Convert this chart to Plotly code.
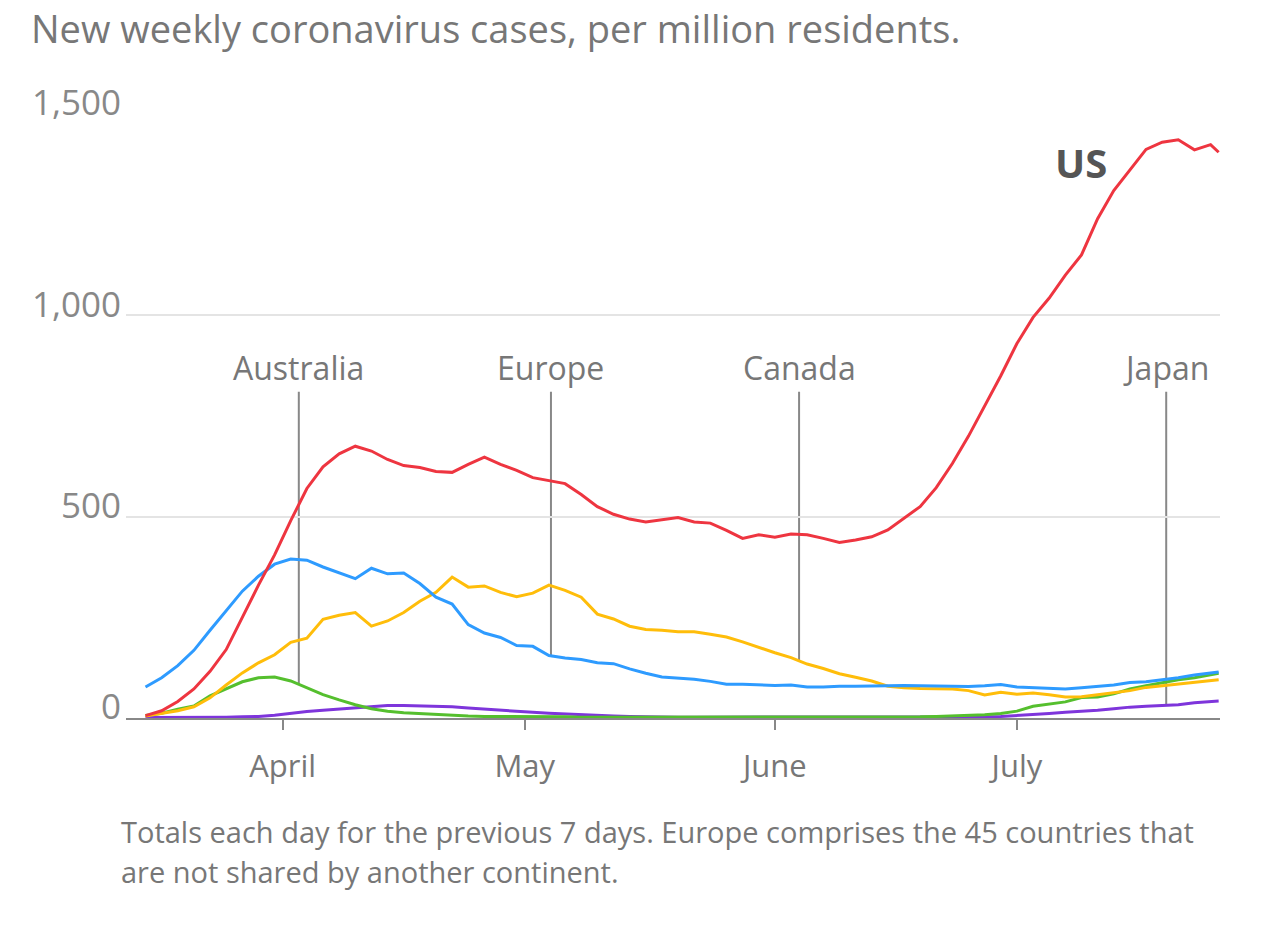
import plotly.graph_objects as go

# ---------------- data ----------------
dates = [
    "2020-03-15", "2020-03-17", "2020-03-19", "2020-03-21", "2020-03-23", "2020-03-25",
    "2020-03-27", "2020-03-29", "2020-03-31", "2020-04-02", "2020-04-04", "2020-04-06",
    "2020-04-08", "2020-04-10", "2020-04-12", "2020-04-14", "2020-04-16", "2020-04-18",
    "2020-04-20", "2020-04-22", "2020-04-24", "2020-04-26", "2020-04-28", "2020-04-30",
    "2020-05-02", "2020-05-04", "2020-05-06", "2020-05-08", "2020-05-10", "2020-05-12",
    "2020-05-14", "2020-05-16", "2020-05-18", "2020-05-20", "2020-05-22", "2020-05-24",
    "2020-05-26", "2020-05-28", "2020-05-30", "2020-06-01", "2020-06-03", "2020-06-05",
    "2020-06-07", "2020-06-09", "2020-06-11", "2020-06-13", "2020-06-15", "2020-06-17",
    "2020-06-19", "2020-06-21", "2020-06-23", "2020-06-25", "2020-06-27", "2020-06-29",
    "2020-07-01", "2020-07-03", "2020-07-05", "2020-07-07", "2020-07-09", "2020-07-11",
    "2020-07-13", "2020-07-15", "2020-07-17", "2020-07-19", "2020-07-21", "2020-07-23",
    "2020-07-25", "2020-07-26",
]

us = [6, 18, 41, 72, 116, 170, 250, 330, 405, 490, 570, 624,
      656, 675, 663, 642, 627, 622, 612, 610, 630, 648, 630, 615,
      597, 590, 582, 555, 525, 506, 494, 487, 493, 498, 487, 484,
      466, 446, 455, 449, 457, 455, 446, 436, 442, 450, 467, 496,
      525, 572, 632, 700, 776, 850, 930, 995, 1043, 1100, 1150, 1240,
      1310, 1360, 1412, 1430, 1436, 1411, 1424, 1405]

europe = [77, 100, 130, 168, 218, 266, 315, 352, 382, 395, 392, 375,
          360, 346, 372, 358, 360, 334, 300, 283, 232, 211, 200, 180,
          178, 155, 149, 145, 137, 135, 122, 111, 102, 99, 96, 91,
          84, 84, 82, 81, 82, 77, 77, 79, 79, 79, 80, 81,
          80, 79, 78, 78, 80, 83, 77, 75, 73, 72, 75, 78,
          82, 88, 90, 95, 100, 107, 112, 114]

canada = [5, 12, 18, 28, 50, 82, 112, 137, 157, 188, 198, 245,
          255, 262, 228, 241, 262, 290, 312, 350, 325, 328, 312, 301,
          310, 330, 317, 300, 258, 246, 228, 220, 218, 214, 214, 208,
          201, 189, 175, 162, 150, 134, 123, 110, 101, 92, 79, 75,
          73, 72, 72, 68, 57, 64, 59, 62, 58, 52, 53, 58,
          63, 68, 76, 80, 84, 88, 93, 95]

australia = [6, 12, 22, 30, 55, 72, 90, 100, 102, 92, 75, 58,
             45, 33, 23, 17, 13, 11, 8, 6, 5, 4, 4, 3,
             3, 3, 3, 2, 2, 2, 2, 2, 2, 2, 2, 2,
             2, 2, 2, 2, 2, 2, 2, 2, 2, 2, 2, 3,
             3, 4, 5, 6, 8, 11, 17, 29, 35, 40, 51, 52,
             60, 72, 80, 87, 95, 100, 108, 111]

japan = [1, 1, 1, 1, 2, 2, 3, 4, 7, 12, 16, 19,
         22, 26, 29, 31, 31, 30, 30, 28, 25, 22, 20, 17,
         14, 12, 10, 8, 7, 5, 4, 3, 2, 2, 2, 2,
         2, 2, 2, 2, 2, 2, 2, 2, 2, 2, 2, 2,
         2, 2, 2, 3, 3, 4, 6, 8, 11, 14, 16, 19,
         23, 27, 29, 31, 33, 38, 40, 42]

series_names = ["Japan", "Australia", "Canada", "Europe", "US"]
series_values = [japan, australia, canada, europe, us]
series_colors = ["#7E35DB", "#55BF2E", "#FFBD0A", "#2E9BFF", "#EE3540"]

month_ticks = ["2020-04-01", "2020-05-01", "2020-06-01", "2020-07-01"]
month_labels = ["April", "May", "June", "July"]
y_ticks = [0, 500, 1000, 1500]
y_labels = ["0", "500", "1,000", "1,500"]

# labelled regions: name, pointer date, value of that region's line at the pointer
callout_names = ["Australia", "Europe", "Canada", "Japan"]
callout_dates = ["2020-04-03", "2020-05-04 06:00", "2020-06-04", "2020-07-19 12:00"]
callout_values = [84, 155, 140, 31]

title_text = "New weekly coronavirus cases, per million residents."
note_line1 = "Totals each day for the previous 7 days. Europe comprises the 45 countries that"
note_line2 = "are not shared by another continent."

# ---------------- figure ----------------
FONT = "Open Sans"
TEXT_GREY = "#777777"
fig = go.Figure()

for name, vals, col in zip(series_names, series_values, series_colors):
    fig.add_trace(go.Scatter(x=dates, y=vals, mode="lines", name=name,
                             line=dict(color=col, width=3), hoverinfo="skip"))

LABEL_Y = 810
for name, d, v in zip(callout_names, callout_dates, callout_values):
    fig.add_shape(type="line", xref="x", yref="y", x0=d, x1=d, y0=v, y1=LABEL_Y,
                  line=dict(color="#888888", width=2), layer="below")
    fig.add_annotation(x=d, y=LABEL_Y, xref="x", yref="y", text=name, showarrow=False,
                       yanchor="bottom", yshift=1,
                       font=dict(family=FONT, size=32, color=TEXT_GREY))

fig.add_annotation(x="2020-07-09", y=1380, xref="x", yref="y", text="<b>US</b>",
                   showarrow=False, xanchor="center", yanchor="middle",
                   font=dict(family=FONT, size=40, color="#555555"))

# title (as a paper-anchored annotation above the plot)
fig.add_annotation(xref="paper", yref="paper", x=-0.0885, y=1.142, xanchor="left", yanchor="middle",
                   text=title_text, showarrow=False,
                   font=dict(family=FONT, size=38, color=TEXT_GREY))

fig.add_annotation(xref="paper", yref="paper", x=-0.006, y=-0.153, xanchor="left", yanchor="top",
                   text=note_line1, showarrow=False,
                   font=dict(family=FONT, size=29, color=TEXT_GREY))
fig.add_annotation(xref="paper", yref="paper", x=-0.006, y=-0.218, xanchor="left", yanchor="top",
                   text=note_line2, showarrow=False,
                   font=dict(family=FONT, size=29, color=TEXT_GREY))

fig.update_layout(
    width=1264, height=938,
    margin=dict(l=126, r=44, t=114, b=220),
    paper_bgcolor="white", plot_bgcolor="white",
    showlegend=False,
    font=dict(family=FONT, color=TEXT_GREY),
    xaxis=dict(type="date", range=["2020-03-12 14:00", "2020-07-26 04:00"],
               tickvals=month_ticks, ticktext=month_labels,
               ticks="outside", ticklen=10, tickwidth=2, tickcolor="#888888",
               showline=True, linecolor="#888888", linewidth=2,
               showgrid=False, zeroline=False, ticklabelstandoff=10,
               tickfont=dict(family=FONT, size=31, color=TEXT_GREY)),
    yaxis=dict(range=[0, 1500], tickvals=y_ticks, ticktext=y_labels,
               showgrid=True, gridcolor="#e4e4e4", gridwidth=2,
               zeroline=False, showline=False, ticks="",
               ticklabelshift=-11, ticklabelstandoff=4,
               tickfont=dict(family=FONT, size=35, color="#888888")),
)

fig.write_html("out.html", config={"displayModeBar": False},
               post_script="document.body.style.margin='0';")
